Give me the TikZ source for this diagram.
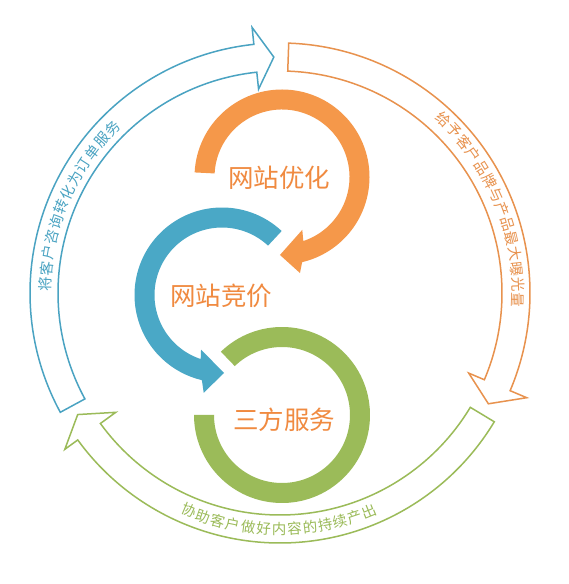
\documentclass[tikz,border=0pt]{standalone}
\usepackage{fontspec}
\newfontfamily\cjk{Noto Sans CJK SC}
\definecolor{cOrange}{HTML}{F5984A}
\definecolor{cBlue}{HTML}{4AA8C6}
\definecolor{cGreen}{HTML}{9BBB59}
\definecolor{tOrange}{HTML}{F08A40}
\definecolor{oOrange}{HTML}{E8924E}
\definecolor{oBlue}{HTML}{4AA3C2}
\definecolor{oGreen}{HTML}{9BBB59}
\begin{document}
\begin{tikzpicture}[x=1pt,y=1pt,
  outarrow/.style={line width=1.5pt, fill=white, line join=miter},
  biglabel/.style={font=\cjk\fontsize{25.5}{25.5}\selectfont, text=tOrange, inner sep=0pt},
  arclabel/.style={font=\cjk\fontsize{14.5}{14.5}\selectfont, inner sep=0pt}]
\useasboundingbox (0,0) rectangle (568,584);
\fill[white] (0,0) rectangle (568,584);

% outer ring of three outlined arrows
\begin{scope}[shift={(280,291)}]
  \draw[outarrow, draw=oBlue] (208.5:250) arc[start angle=208.5, end angle=96, radius=250]
    -- (96:267) -- (91.5:236) -- (96:205) -- (96:222)
    arc[start angle=96, end angle=208.5, radius=222] -- cycle;
  \draw[outarrow, draw=oOrange] (88:250) arc[start angle=88, end angle=-23, radius=250]
    -- (-23:268) -- (-28:236) -- (-23:205) -- (-23:222)
    arc[start angle=-23, end angle=88, radius=222] -- cycle;
  \draw[outarrow, draw=oGreen] (-31:250) arc[start angle=-31, end angle=-144, radius=250]
    -- (-144:266) -- (-149:236) -- (-144:203) -- (-144:222)
    arc[start angle=-144, end angle=-31, radius=222] -- cycle;

  \foreach \ch [count=\i] in {将,客,户,咨,询,转,化,为,订,单,服,务}{
    \pgfmathsetmacro{\ang}{177.8-(\i-1)*3.85}
    \node[arclabel, text=oBlue, rotate=\ang-90] (bl\i) at (\ang:235) {\ch};
  }
  \foreach \ch [count=\i] in {给,予,客,户,品,牌,与,产,品,最,大,曝,光,量}{
    \pgfmathsetmacro{\ang}{46.7-(\i-1)*3.715}
    \node[arclabel, text=oOrange, rotate=\ang-90] (ol\i) at (\ang:238) {\ch};
  }
  \foreach \ch [count=\i] in {协,助,客,户,做,好,内,容,的,持,续,产,出}{
    \pgfmathsetmacro{\ang}{247.3+(\i-1)*3.75}
    \node[arclabel, text=oGreen, rotate=\ang+90] (gl\i) at (\ang:236) {\ch};
  }
\end{scope}

% orange thick arrow
\begin{scope}[shift={(282,407)}]
  \fill[cOrange] (177:87.5) arc[start angle=177, end angle=-76.7, radius=87.5]
    -- (-79.4:97.7) -- (-91.5:78) -- (-69:56.6) -- (-71.6:67.5)
    arc[start angle=-71.6, end angle=177, radius=67.5] -- cycle;
\end{scope}

% blue thick arrow
\begin{scope}[shift={(222,289)}]
  \fill[cBlue] (47:87.5) arc[start angle=47, end angle=256.7, radius=87.5]
    -- (259.4:99.5) -- (271.5:78) -- (249:58.5) -- (251.6:67.5)
    arc[start angle=251.6, end angle=47, radius=67.5] -- cycle;
\end{scope}

% green ring
\begin{scope}[shift={(282,169)}]
  \fill[cGreen] (134:88) arc[start angle=134, end angle=-180, radius=88]
    -- (-180:68) arc[start angle=-180, end angle=134, radius=68] -- cycle;
\end{scope}

\node[biglabel] (t1) at (279,406) {网站优化};
\node[biglabel] (t2) at (221,288) {网站竞价};
\node[biglabel] (t3) at (284,164) {三方服务};
\end{tikzpicture}
\end{document}
